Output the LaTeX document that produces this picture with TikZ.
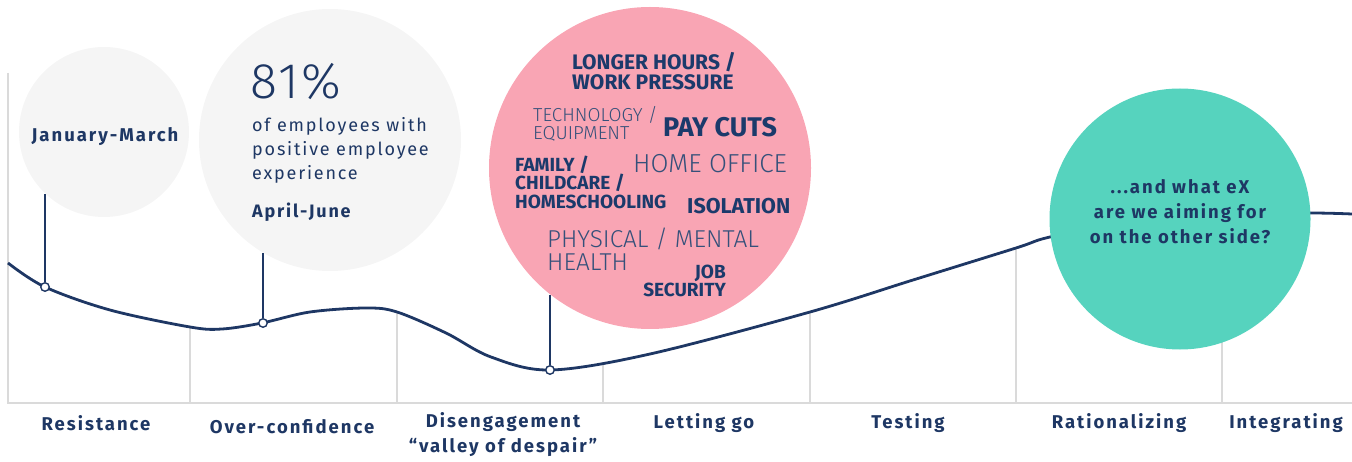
\documentclass[tikz,border=0pt]{standalone}
\usepackage{fontspec}
\setmainfont{Fira Sans}
\newfontfamily\thinfont{Fira Sans Light}
\newfontfamily\bigfont[LetterSpace=5]{Fira Sans Light}
\newfontfamily\spacedfont[LetterSpace=10.8]{Fira Sans}
\newfontfamily\notefont[LetterSpace=10]{Fira Sans}
\newfontfamily\condfont{Fira Sans}
\usetikzlibrary{positioning}
\definecolor{navy}{HTML}{1E3764}
\definecolor{inkblue}{HTML}{1B3A6B}
\definecolor{softblue}{HTML}{35507A}
\definecolor{grayline}{HTML}{DADADA}
\definecolor{bubblegray}{HTML}{F5F5F5}
\definecolor{bubblepink}{HTML}{F9A5B4}
\definecolor{bubbleteal}{HTML}{56D3BE}

\begin{document}
\begin{tikzpicture}[x=1pt, y=-1pt, inner sep=0pt]
	\tikzstyle{bubble} = [circle, inner sep=0pt]
	\tikzstyle{phase} = [text=navy, font=\spacedfont\bfseries\fontsize{18.5}{25}\selectfont, align=center]
	\tikzstyle{note} = [text=navy, font=\notefont\fontsize{18}{24}\selectfont, align=left, anchor=west]
	\tikzstyle{strong} = [text=inkblue, font=\condfont\bfseries\fontsize{21}{20}\selectfont, align=left, anchor=west]
	\tikzstyle{faint} = [text=softblue, font=\thinfont\fontsize{18.8}{18}\selectfont, align=left, anchor=west]
	\tikzstyle{dot} = [circle, draw=navy, fill=white, line width=1.4pt, minimum size=8.5pt, inner sep=0pt]
	\tikzstyle{stem} = [draw=navy, line width=1.2pt]
	\tikzstyle{grid} = [draw=grayline, line width=1.3pt]

	\useasboundingbox (0,0) rectangle (1352,462);

	% axes and phase borders
	\draw[grid] (8,73) -- (8,403) -- (1352,403);
	\foreach \x/\y in {190/327, 397/312, 603/363, 810/312, 1016/248, 1222/214}
		\draw[grid] (\x,\y) -- (\x,403);

	% change curve
	\draw[navy, line width=2.8pt] plot[smooth, tension=0.55] coordinates {
		(8,263) (45,287) (110,310) (190,327) (222,329) (262,323) (310,312)
		(366,308) (397,312) (446,333) (491,357) (550,370) (650,354)
		(810,312) (913,280) (1016,248) (1050,237) (1130,222) (1222,214)
		(1310,213) (1352,214)};

	% bubbles
	\node[bubble, fill=bubblegray, minimum size=170pt]	(jan)	at (104,132)	{};
	\node[bubble, fill=bubblegray, minimum size=262pt]	(apr)	at (330,140)	{};
	\node[bubble, fill=bubblepink, minimum size=322pt]	(issues)	at (650,168)	{};
	\node[bubble, fill=bubbleteal, minimum size=261pt]	(goal)	at (1180,219)	{};

	% markers on the curve
	\node[dot] (m1) at (45,287) {};
	\node[dot] (m2) at (263,323) {};
	\node[dot] (m3) at (550,370) {};
	\coordinate (s1) at (45,194);
	\coordinate (s2) at (263,253);
	\coordinate (s3) at (550,295);
	\draw[stem] (m1) -- (s1);
	\draw[stem] (m2) -- (s2);
	\draw[stem] (m3) -- (s3);

	% bubble texts
	\node[phase] (jantext) at (105,137) {January-March};
	\node[text=navy, font=\bigfont\fontsize{50}{50}\selectfont, anchor=west] (share) at (250,82) {81\%};
	\node[note] (sharetext) at (252,150) {of employees with\\positive employee\\experience};
	\node[note, font=\notefont\bfseries\fontsize{18}{24}\selectfont] (aprtext) at (252,212) {April-June};
	\node[phase] (goaltext) at (1180,212) {...and what eX\\are we aiming for\\on the other side?};

	% issues word cloud
	\node[strong] (hours) at (572,71) {LONGER HOURS /\\WORK PRESSURE};
	\node[faint] (tech) at (533,124) {TECHNOLOGY /\\EQUIPMENT};
	\node[strong, font=\condfont\bfseries\fontsize{27}{27}\selectfont] (pay) at (663,127) {PAY CUTS};
	\node[strong, font=\condfont\bfseries\fontsize{19}{18.5}\selectfont] (family) at (515,182) {FAMILY /\\CHILDCARE /\\HOMESCHOOLING};
	\node[faint, font=\thinfont\fontsize{26}{26}\selectfont] (home) at (633,164) {HOME OFFICE};
	\node[strong, font=\condfont\bfseries\fontsize{21.5}{22}\selectfont] (isol) at (687,206) {ISOLATION};
	\node[faint, font=\thinfont\fontsize{24.4}{23}\selectfont] (health) at (547,249) {PHYSICAL / MENTAL\\HEALTH};
	\node[strong, font=\condfont\bfseries\fontsize{19}{18}\selectfont, align=right, anchor=east] (job) at (726,281) {JOB\\SECURITY};

	% phases
	\node[phase] (resist)	at (96,423)		{Resistance};
	\node[phase] (over)		at (292,427)	{Over-confidence};
	\node[phase] (diseng)	at (503,435)	{Disengagement\\“valley of despair”};
	\node[phase] (letgo)	at (704,423)	{Letting go};
	\node[phase] (test)		at (908,423)	{Testing};
	\node[phase] (ration)	at (1119,423)	{Rationalizing};
	\node[phase] (integ)	at (1286,423)	{Integrating};
\end{tikzpicture}
\end{document}
